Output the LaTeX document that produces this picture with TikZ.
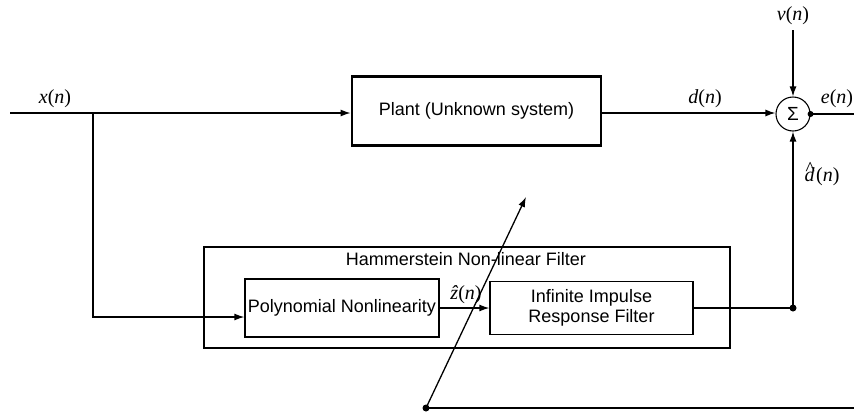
\documentclass[tikz,border=0pt]{standalone}
\usepackage{fontspec}
\setmainfont{Liberation Sans}
\newfontfamily\tms{Liberation Serif}
\usetikzlibrary{arrows.meta}
\newcommand\sig[1]{{\tms\fontsize{20}{22}\selectfont\textit{#1}(\textit{n})}}
\newcommand\hatsig[1]{{\tms\fontsize{20}{22}\selectfont\textit{#1}\llap{\raisebox{6.5pt}{\textit{\^{}}}\kern0pt}\kern1.5pt(\textit{n})}}
\begin{document}
\begin{tikzpicture}[x=1pt,y=-1pt,
  ln/.style={line width=1.3pt},
  arr/.style={ln,-{Latex[length=10pt,width=7pt]}},
  thickbox/.style={draw,line width=2.8pt,inner sep=0pt},
  thinbox/.style={draw,line width=1.3pt,inner sep=0pt,align=center},
  txt/.style={font=\fontsize{18}{20}\selectfont},
  dotc/.style={circle,fill,inner sep=0pt,minimum size=7pt}]
\useasboundingbox (0,0) rectangle (854,413);
% nodes
\node[thickbox,txt,minimum width=249,minimum height=69] (plant) at (476.5,111) {Plant (Unknown system)};
\node[draw,circle,line width=1.1pt,minimum size=34,inner sep=0pt,font=\fontsize{19}{20}\selectfont] (sum) at (793,114) {Σ};
\node[thickbox,minimum width=526,minimum height=101] (hamm) at (467,297.5) {};
\node[txt,anchor=center] (hlab) at (466,259) {Hammerstein Non-linear Filter};
\node[thinbox,txt,minimum width=194,minimum height=58] (poly) at (342,308) {Polynomial Nonlinearity};
\node[thinbox,txt,minimum width=203,minimum height=53] (iir) at (591.5,308) {Infinite Impulse\\Response Filter};
% labels
\node (lx) at (55,99) {\sig{x}};
\node (ld) at (705,99) {\sig{d}};
\node (lv) at (793,16) {\sig{v}};
\node (le) at (837,99) {\sig{e}};
\node (ldh) at (822,174) {\hatsig{d}};
\node (lz) at (466,295) {{\tms\fontsize{20}{22}\selectfont\textit{\^{z}}(\textit{n})}};
% coordinates
\coordinate (in) at (10,113);
\coordinate (j1) at (93,113);
\node[dotc] (dA) at (793,308) {};
\node[dotc] (dB) at (426,408) {};
\node[dotc,minimum size=6pt] (dO) at (sum.east) {};
\coordinate (tip) at (526,197);
\coordinate (oend) at (854,114);
\coordinate (bend) at (854,408);
\coordinate (vtop) at (793,30);
% connectors
\draw[arr] (in) -- (in -| plant.west);
\draw[arr] (plant.east |- in) -- (in -| sum.west);
\draw[arr] (vtop) -- (sum.north);
\draw[ln] (sum.east) -- (oend);
\draw[arr] (dA.center) -- (sum.south);
\draw[ln] (iir.east) -- (dA.center);
\draw[arr] (j1) |- ([yshift=-9pt]poly.west);
\draw[arr] (poly.east) -- (iir.west);
\draw[ln] (dB.center) -- (bend);
\draw[arr] (dB.center) -- (tip);
\end{tikzpicture}
\end{document}
